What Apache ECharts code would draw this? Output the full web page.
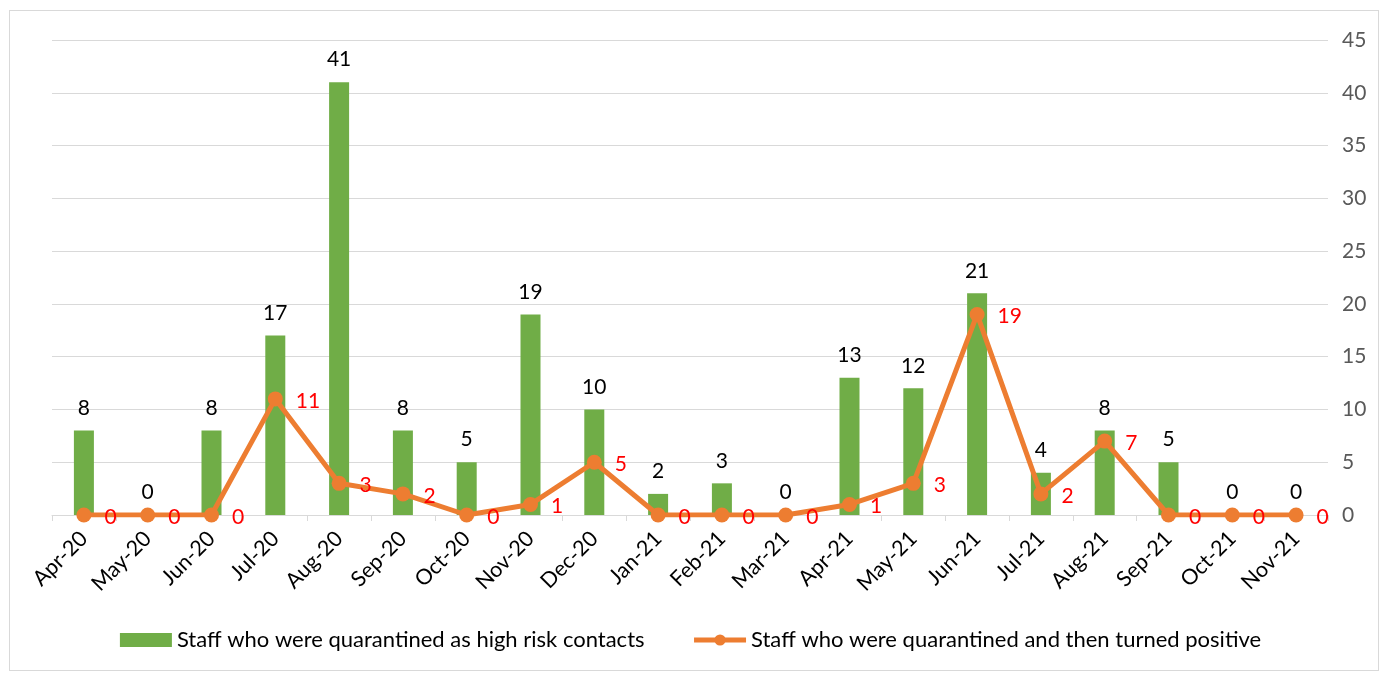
<!DOCTYPE html>
<html><head><meta charset="utf-8">
<script src="https://cdn.jsdelivr.net/npm/echarts@6/dist/echarts.min.js"></script>
<style>
html,body{margin:0;padding:0;background:#fff;}
#frame{position:absolute;left:9px;top:10px;width:1370px;height:661px;border:1px solid #D9D9D9;box-sizing:border-box;}
#c{position:absolute;left:0;top:0;width:1381px;height:673px;}
</style></head>
<body>
<div id="frame"></div>
<div id="c"></div>
<script>
const categories = ['Apr-20','May-20','Jun-20','Jul-20','Aug-20','Sep-20','Oct-20','Nov-20','Dec-20','Jan-21','Feb-21','Mar-21','Apr-21','May-21','Jun-21','Jul-21','Aug-21','Sep-21','Oct-21','Nov-21'];
const quarantined = [8,0,8,17,41,8,5,19,10,2,3,0,13,12,21,4,8,5,0,0];
const turnedPositive = [0,0,0,11,3,2,0,1,5,0,0,0,1,3,19,2,7,0,0,0];
const seriesNames = ['Staff who were quarantined as high risk contacts','Staff who were quarantined and then turned positive'];

const font = 'Lato, "Liberation Sans", sans-serif';
const chart = echarts.init(document.getElementById('c'));
chart.setOption({
  animation:false,
  textStyle:{fontFamily:font},
  grid:{left:52,right:53,top:40,bottom:158,containLabel:false},
  legend:{
    bottom:17,left:'center',itemGap:47,itemWidth:52,itemHeight:14,
    textStyle:{fontSize:22,color:'#000',fontFamily:font},
    data:[{name:seriesNames[0],icon:'rect'},{name:seriesNames[1],lineStyle:{width:5},itemStyle:{}}]
  },
  xAxis:{
    type:'category',data:categories,boundaryGap:true,
    axisLine:{lineStyle:{color:'#D9D9D9',width:1}},
    axisTick:{show:true,length:6,lineStyle:{color:'#D9D9D9'}},
    axisLabel:{rotate:45,fontSize:21.5,color:'#000',margin:20,interval:0,fontFamily:font}
  },
  yAxis:{
    type:'value',position:'right',min:0,max:45,interval:5,
    axisLine:{show:false},axisTick:{show:false},
    splitLine:{lineStyle:{color:'#D9D9D9',width:1}},
    axisLabel:{fontSize:21,color:'#595959',margin:14,fontFamily:font}
  },
  series:[
    {name:seriesNames[0],type:'bar',data:quarantined,barWidth:20,
     itemStyle:{color:'#70AD47'},
     label:{show:true,position:'top',distance:12,fontSize:21,color:'#000',fontFamily:font}},
    {name:seriesNames[1],type:'line',data:turnedPositive,
     lineStyle:{color:'#ED7D31',width:5},itemStyle:{color:'#ED7D31'},
     symbol:'circle',symbolSize:15,
     label:{show:true,position:'right',distance:13,fontSize:21,color:'#FF0000',fontFamily:font,offset:[0,2]}}
  ]
});
</script>
</body></html>
